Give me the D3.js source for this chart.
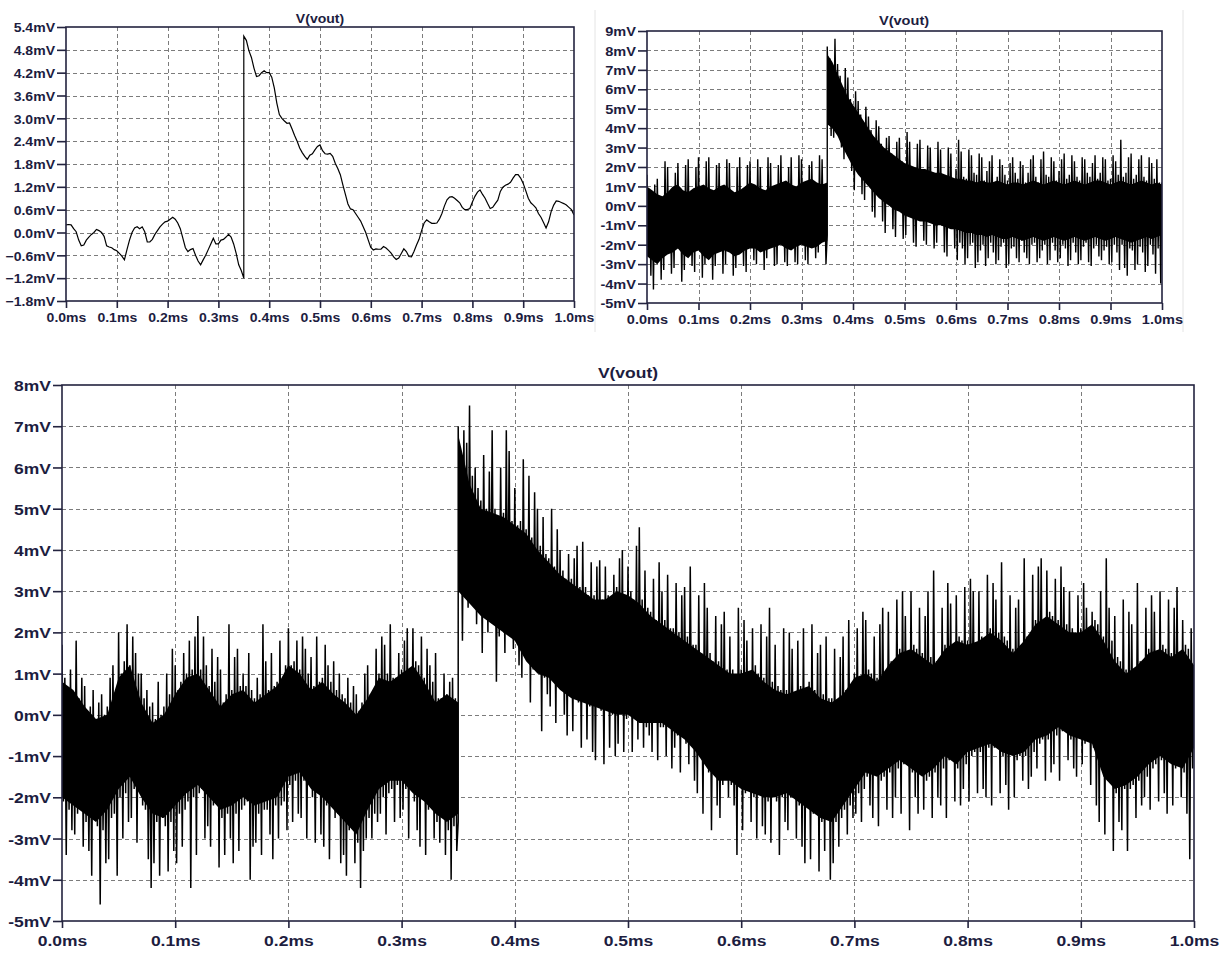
<!DOCTYPE html>
<html>
<head>
<meta charset="utf-8">
<script src="https://cdn.jsdelivr.net/npm/d3@7"></script>
<style>
  html, body { margin: 0; padding: 0; background: #fff; }
  svg { display: block; }
  text { font-family: "Liberation Sans", Arial, sans-serif; font-weight: bold; fill: #1d1d3f; }
</style>
</head>
<body>
<svg id="chart" width="1227" height="954"></svg>
<script>
// ---------------------------------------------------------------
// Data (mV vs ms). Each record is split at the 0.35 ms step.
// ---------------------------------------------------------------
const traceTitle = "V(vout)";
const timeTicks = [0, 0.1, 0.2, 0.3, 0.4, 0.5, 0.6, 0.7, 0.8, 0.9, 1.0];
const stepTime = 0.35;

// Panel A (upper left): filtered output, one sample every 5 µs
const aYTicks = [-1.8, -1.2, -0.6, 0.0, 0.6, 1.2, 1.8, 2.4, 3.0, 3.6, 4.2, 4.8, 5.4];
const aPre = [
  0.2, 0.21, 0.2, 0.1, 0.02, -0.2, -0.35, -0.33, -0.2, -0.12,
  -0.05, 0.0, 0.08, 0.05, 0.0, -0.1, -0.35, -0.38, -0.4, -0.45,
  -0.48, -0.55, -0.62, -0.72, -0.45, -0.2, 0.0, 0.12, 0.15, 0.1,
  0.15, 0.02, -0.25, -0.25, -0.18, -0.05, 0.05, 0.15, 0.22, 0.28,
  0.3, 0.35, 0.4, 0.35, 0.25, 0.1, -0.15, -0.4, -0.5, -0.45,
  -0.42, -0.6, -0.75, -0.85, -0.72, -0.6, -0.45, -0.3, -0.15, -0.3,
  -0.3, -0.2, -0.18, -0.12, -0.05, -0.12, -0.3, -0.55, -0.85, -1.0,
  -1.2
];
const aPost = [
  5.16, 5.05, 4.78, 4.6, 4.32, 4.1, 4.12, 4.2, 4.25, 4.2,
  4.2, 4.08, 3.8, 3.4, 3.1, 3.0, 2.93, 2.87, 2.88, 2.72,
  2.55, 2.4, 2.22, 2.1, 2.0, 1.92, 2.03, 2.07, 2.17, 2.26,
  2.3, 2.15, 2.07, 2.06, 2.08, 2.0, 1.82, 1.68, 1.52, 1.25,
  1.0, 0.75, 0.62, 0.6, 0.5, 0.4, 0.3, 0.15, 0.0, -0.2,
  -0.39, -0.46, -0.43, -0.44, -0.44, -0.37, -0.41, -0.47, -0.54, -0.64,
  -0.71, -0.67, -0.55, -0.43, -0.5, -0.63, -0.64, -0.5, -0.33, -0.18,
  0.05, 0.25, 0.33, 0.28, 0.24, 0.24, 0.25, 0.35, 0.5, 0.7,
  0.86, 0.93, 0.94, 0.9, 0.84, 0.78, 0.66, 0.6, 0.6, 0.63,
  0.8, 0.95, 1.06, 1.12, 1.0, 0.9, 0.76, 0.63, 0.66, 0.76,
  0.85, 1.08, 1.19, 1.24, 1.27, 1.32, 1.43, 1.52, 1.52, 1.43,
  1.29, 1.1, 0.9, 0.78, 0.72, 0.65, 0.5, 0.4, 0.26, 0.12,
  0.28, 0.55, 0.72, 0.83, 0.82, 0.79, 0.76, 0.72, 0.66, 0.6,
  0.46
];

// Panel B (upper right): noisy output
const bYTicks = [-5, -4, -3, -2, -1, 0, 1, 2, 3, 4, 5, 6, 7, 8, 9];
// dense band of the trace, every 10 µs
const bCoreHiPre = [
  1.0, 0.8, 0.6, 0.5, 0.7, 1.0, 1.1, 0.8, 0.7, 0.9,
  1.0, 1.1, 0.9, 0.8, 1.0, 1.1, 0.9, 0.7, 0.8, 1.0,
  1.2, 1.1, 0.9, 0.8, 1.0, 1.1, 1.2, 1.3, 1.1, 1.0,
  1.2, 1.3, 1.4, 1.2, 1.1, 1.2
];
const bCoreLoPre = [
  -2.6, -2.8, -3.0, -2.7, -2.5, -2.4, -2.2, -2.5, -2.7, -2.4,
  -2.3, -2.6, -2.8, -2.5, -2.4, -2.3, -2.4, -2.6, -2.5, -2.3,
  -2.2, -2.2, -2.4, -2.3, -2.2, -2.1, -2.0, -2.2, -2.3, -2.1,
  -2.0, -2.1, -2.2, -2.1, -1.9, -1.8
];
const bCoreHiPost = [
  7.8, 7.4, 6.8, 6.2, 5.6, 5.2, 4.8, 4.4, 4.0, 3.6,
  3.3, 3.0, 2.8, 2.6, 2.4, 2.2, 2.1, 2.0, 1.9, 1.9,
  1.8, 1.7, 1.7, 1.6, 1.5, 1.4, 1.4, 1.3, 1.3, 1.2,
  1.3, 1.2, 1.2, 1.3, 1.2, 1.1, 1.2, 1.2, 1.1, 1.2,
  1.3, 1.2, 1.1, 1.2, 1.3, 1.2, 1.1, 1.2, 1.3, 1.2,
  1.1, 1.2, 1.3, 1.3, 1.2, 1.1, 1.2, 1.3, 1.2, 1.1,
  1.2, 1.3, 1.2, 1.1, 1.2, 1.1
];
const bCoreLoPost = [
  4.2, 4.0, 3.6, 3.0, 2.5, 2.0, 1.6, 1.3, 1.0, 0.7,
  0.4, 0.2, 0.0, -0.2, -0.3, -0.5, -0.6, -0.7, -0.8, -0.8,
  -0.9, -1.0, -1.0, -1.1, -1.2, -1.2, -1.3, -1.4, -1.4, -1.5,
  -1.5, -1.6, -1.5, -1.6, -1.7, -1.7, -1.6, -1.7, -1.8, -1.7,
  -1.6, -1.7, -1.8, -1.7, -1.6, -1.7, -1.8, -1.7, -1.6, -1.7,
  -1.8, -1.7, -1.6, -1.7, -1.8, -1.7, -1.6, -1.7, -1.8, -1.9,
  -1.8, -1.7, -1.6, -1.7, -1.6, -1.5
];
// alternating peaks every 2.5 µs
const bPeaksPre = [
  1.6, -2.4, 0.8, -3.6,   0.6, -4.3, 1.1, -2.6,   1.4, -2.8, 0.4, -3.8,   0.3, -3.3, 2.3, -2.5,
  2.0, -2.3, 0.5, -3.5,   0.8, -3.2, 1.7, -2.2,   2.2, -2.0, 0.9, -3.9,   0.6, -3.3, 2.1, -2.3,
  2.4, -2.5, 0.5, -3.1,   0.7, -3.4, 2.0, -2.2,   2.5, -2.1, 0.8, -3.7,   0.9, -3.0, 2.3, -2.4,
  2.5, -2.6, 0.7, -3.8,   0.6, -3.1, 2.1, -2.3,   2.2, -2.2, 0.8, -3.5,   0.9, -3.0, 2.4, -2.1,
  2.2, -2.2, 0.7, -3.6,   0.5, -3.2, 2.0, -2.4,   2.5, -2.4, 0.6, -3.1,   0.8, -3.4, 2.1, -2.1,
  2.3, -2.0, 1.0, -2.8,   0.9, -3.0, 2.4, -2.0,   2.0, -2.2, 0.7, -3.3,   0.6, -2.7, 2.5, -2.1,
  2.2, -2.0, 0.8, -3.1,   0.9, -3.0, 2.1, -1.9,   2.6, -1.8, 1.0, -2.9,   1.1, -3.1, 2.0, -2.0,
  2.5, -2.1, 0.9, -2.9,   0.8, -3.0, 2.6, -1.9,   2.4, -1.8, 1.0, -2.8,   1.1, -3.0, 2.1, -1.9,
  2.3, -2.0, 1.2, -2.7,   1.0, -2.4, 2.6, -1.9,   2.4, -1.7, 0.9, -3.0,
  -1.5
];
const bPeaksPost = [
  8.2, 4.3, 7.6, 3.6,   7.3, 3.5, 8.6, 4.1,   7.3, 3.7, 6.7, 3.0,   6.1, 2.4, 7.1, 3.1,
  6.6, 2.6, 5.5, 1.8,   5.1, 0.8, 5.9, 2.1,   5.4, 1.7, 4.7, 0.6,   4.3, 0.3, 5.1, 1.4,
  4.6, 1.1, 3.9, -0.3,  3.5, -0.6, 4.4, 0.8,  4.1, 0.5, 3.2, -0.8,  2.9, -1.4, 3.5, 0.3,
  3.6, 0.1, 2.7, -1.2,  2.5, -1.6, 3.3, -0.1, 3.5, -0.2, 2.3, -1.7, 2.1, -1.5, 3.8, -0.4,
  3.3, -0.5, 2.0, -1.9, 1.9, -2.1, 3.2, -0.6, 3.4, -0.7, 1.8, -1.8, 1.8, -2.0, 3.1, -0.7,
  3.0, -0.8, 1.7, -2.2, 1.6, -1.9, 3.3, -0.9, 2.9, -0.9, 1.6, -2.4, 1.5, -2.6, 3.0, -1.0,
  2.7, -1.1, 1.4, -2.2,
  1.9, -2.8, 3.4, -1.9,   2.8, -2.2, 1.5, -3.0,   1.4, -2.7, 2.9, -2.0,   2.6, -1.9, 1.7, -3.2,
  1.6, -2.9, 2.7, -2.3,   2.5, -2.0, 1.3, -3.1,   1.8, -2.7, 2.3, -1.9,   2.6, -2.4, 1.2, -3.0,
  1.5, -2.8, 2.4, -2.1,   2.1, -1.9, 1.6, -3.2,   1.3, -3.0, 2.2, -2.2,   2.5, -2.1, 1.7, -2.7,
  1.4, -2.9, 2.3, -1.8,   2.1, -2.4, 1.2, -2.7,   1.7, -3.0, 2.4, -2.0,   2.6, -1.9, 1.5, -2.9,
  1.2, -2.7, 2.4, -2.3,   2.8, -2.0, 1.6, -3.0,   1.5, -2.8, 2.5, -1.9,   2.3, -2.3, 1.3, -2.9,
  1.8, -2.7, 2.4, -2.0,   2.7, -2.2, 1.4, -3.1,   1.6, -2.8, 2.6, -1.9,   2.3, -2.4, 1.5, -3.0,
  1.3, -2.8, 2.5, -2.1,   2.4, -1.9, 1.7, -2.9,   1.5, -3.1, 2.2, -2.2,   2.6, -2.0, 1.4, -2.6,
  1.7, -2.8, 2.5, -2.3,   2.4, -2.1, 1.3, -3.0,   1.4, -2.9, 2.6, -2.0,   2.3, -2.4, 1.6, -3.3,
  3.4, -2.0, 1.5, -3.2,   1.7, -3.6, 2.5, -2.2,   2.7, -2.3, 1.4, -3.3,   1.6, -3.0, 2.4, -2.1,
  2.6, -2.4, 1.5, -3.4,   1.3, -3.1, 2.5, -2.0,   2.2, -2.5, 1.4, -3.5,   2.4, -2.2, 1.2, -4.0,
  1.2
];

// Panel C (bottom): noisy output
const cYTicks = [-5, -4, -3, -2, -1, 0, 1, 2, 3, 4, 5, 6, 7, 8];
const cCoreHiPre = [
  0.8, 0.6, 0.2, -0.1, 0.0, 0.9, 1.2, 0.3, -0.2, 0.0,
  0.5, 0.9, 1.0, 0.6, 0.2, 0.5, 0.6, 0.3, 0.5, 0.7,
  1.2, 1.0, 0.6, 0.8, 0.5, 0.3, 0.0, 0.4, 0.9, 0.8,
  1.0, 1.2, 0.8, 0.3, 0.5, 0.3
];
const cCoreLoPre = [
  -2.0, -2.2, -2.4, -2.6, -2.3, -1.8, -1.5, -2.0, -2.4, -2.5,
  -2.2, -1.9, -1.7, -2.0, -2.3, -2.2, -2.0, -2.2, -2.1, -2.0,
  -1.5, -1.4, -1.8, -2.0, -2.3, -2.6, -2.9, -2.3, -1.8, -1.6,
  -1.6, -1.9, -2.1, -2.4, -2.6, -2.4
];
const cCoreHiPost = [
  6.8, 5.6, 5.0, 4.9, 4.8, 4.6, 4.4, 4.0, 3.7, 3.4,
  3.2, 3.0, 2.8, 2.8, 3.0, 2.9, 2.7, 2.4, 2.2, 2.0,
  1.8, 1.6, 1.4, 1.2, 1.0, 1.0, 1.1, 0.8, 0.6, 0.5,
  0.6, 0.7, 0.4, 0.3, 0.5, 0.9, 1.0, 0.8, 1.2, 1.5,
  1.6, 1.4, 1.2, 1.6, 1.8, 1.7, 1.8, 2.0, 1.8, 1.5,
  1.8, 2.2, 2.4, 2.2, 2.0, 2.0, 2.2, 1.8, 1.3, 1.0,
  1.2, 1.5, 1.6, 1.4, 1.6, 1.2
];
const cCoreLoPost = [
  3.0, 2.7, 2.4, 2.2, 2.0, 1.8, 1.3, 1.0, 0.9, 0.6,
  0.4, 0.3, 0.2, 0.1, 0.0, 0.0, -0.2, -0.2, -0.2, -0.4,
  -0.6, -0.9, -1.3, -1.6, -1.6, -1.8, -1.9, -2.0, -2.0, -1.9,
  -2.1, -2.3, -2.5, -2.6, -2.2, -1.8, -1.4, -1.5, -1.3, -1.1,
  -1.3, -1.5, -1.3, -1.0, -1.2, -0.9, -0.8, -0.7, -0.9, -1.0,
  -0.9, -0.6, -0.5, -0.3, -0.5, -0.6, -0.7, -1.5, -1.8, -1.7,
  -1.5, -1.2, -1.0, -1.2, -1.3, -0.8
];
// alternating peaks every 1.25 µs
const cPeaksPre = [
  1.7, -2.1, 0.9, -3.4, 0.6, -2.3, 1.1, -2.8,
  0.5, -2.9, 1.8, -2.4, 0.4, -2.2, 0.9, -3.2,
  0.7, -2.6, 0.1, -3.3, 0.2, -3.9, 0.6, -2.5,
  -0.1, -2.7, 0.3, -4.6, 0.5, -2.8, 0.0, -3.6,
  0.2, -3.5, 0.9, -2.5, 1.2, -2.4, 0.4, -3.9,
  2.0, -2.0, 1.0, -3.0, 1.3, -1.9, 2.2, -2.6,
  1.2, -2.5, 1.9, -1.8, 1.5, -3.1, 1.0, -1.7,
  1.0, -2.2, 0.4, -2.3, 0.6, -3.5, 0.2, -4.2,
  0.3, -3.6, -0.1, -2.6, 0.8, -3.9, 0.0, -2.5,
  0.2, -2.7, 1.0, -3.8, 0.5, -2.6, 1.6, -3.3,
  1.2, -3.6, 0.6, -2.4, 0.8, -3.2, 1.5, -2.3,
  1.0, -2.1, 1.8, -4.2, 1.1, -2.0, 1.9, -3.4,
  2.4, -1.9, 1.1, -1.8, 1.9, -3.0, 1.2, -2.7,
  0.7, -3.2, 1.6, -2.2, 0.8, -2.1, 1.4, -3.7,
  1.1, -2.5, 0.3, -3.4, 0.5, -2.4, 2.2, -3.0,
  0.6, -3.6, 1.4, -2.4, 1.6, -3.3, 0.7, -2.3,
  1.0, -2.2, 0.7, -2.1, 1.5, -4.0, 0.6, -3.2,
  0.4, -3.1, 0.9, -2.4, 0.5, -3.4, 2.2, -2.3,
  1.3, -2.3, 0.6, -2.9, 1.5, -3.5, 0.7, -2.2,
  0.8, -3.0, 1.8, -2.2, 0.9, -2.1, 1.2, -2.8,
  2.1, -1.7, 1.2, -2.6, 1.3, -1.6, 1.8, -2.4,
  1.1, -2.5, 1.9, -1.6, 1.6, -3.0, 1.0, -1.5,
  1.4, -2.0, 0.7, -3.1, 1.9, -1.9, 0.8, -2.9,
  0.9, -3.2, 1.7, -2.2, 1.2, -3.5, 0.8, -2.1,
  1.3, -2.5, 0.6, -2.4, 1.0, -3.6, 0.5, -3.4,
  0.4, -3.9, 0.9, -2.8, 0.3, -2.7, 0.7, -3.6,
  0.5, -3.1, 0.1, -4.2, 0.3, -3.3, 1.0, -3.0,
  1.2, -2.5, 0.5, -3.0, 0.6, -2.4, 1.6, -2.6,
  1.0, -2.4, 1.9, -2.0, 1.7, -2.9, 1.0, -1.9,
  2.2, -1.8, 0.9, -2.6, 0.9, -1.7, 1.5, -2.5,
  1.1, -2.3, 1.8, -1.8, 2.1, -3.0, 1.1, -1.7,
  2.1, -2.1, 1.3, -2.8, 1.2, -3.2, 1.9, -2.0,
  0.9, -3.4, 1.6, -2.3, 1.2, -2.2, 0.8, -3.0,
  1.5, -2.6, 0.4, -3.1, 0.4, -2.5, 1.0, -3.4,
  0.5, -2.8, 0.8, -4.0, 0.9, -2.7, 0.4, -3.3,
  -2.6
];
const cPeaksPost = [
  7.0, 3.2, 6.4, 1.8, 6.9, 2.9, 6.6, 2.6,
  7.5, 2.8, 5.8, 3.0, 6.0, 2.2, 5.5, 2.6,
  5.2, 1.5, 6.3, 2.5, 5.0, 2.0, 5.9, 2.3,
  6.9, 2.3, 5.0, 0.8, 4.8, 1.9, 6.0, 2.1,
  4.9, 1.5, 6.9, 2.1, 6.4, 1.9, 4.7, 1.6,
  5.5, 1.9, 4.6, 1.2, 4.7, 0.9, 6.2, 1.7,
  4.5, 1.4, 5.8, 0.3, 4.3, 1.1, 5.4, 1.2,
  5.0, 1.1, 4.1, -0.4, 4.8, 0.9, 3.9, 0.5,
  3.8, 0.2, 5.0, 1.0, 3.6, -0.2, 4.5, 0.8,
  4.0, 0.7, 3.5, 0.0, 3.3, -0.5, 3.9, 0.5,
  3.3, -0.4, 3.8, 0.5, 4.1, 0.3, 3.1, -0.8,
  4.2, 0.4, 3.1, -0.6, 2.9, 0.2, 3.7, -0.9,
  2.9, -1.1, 3.6, 0.3, 3.75, 0.1, 2.8, -1.2,
  3.6, 0.2, 2.9, -0.8, 2.7, 0.0, 3.4, -1.0,
  3.1, -0.7, 3.8, 0.1, 4.0, -0.9, 2.9, -0.1,
  3.6, 0.1, 3.0, -0.9, 2.8, -0.1, 4.1, -0.6,
  4.55, -0.1, 2.8, -0.8, 3.5, -0.3, 2.6, -0.5,
  2.5, -0.9, 3.3, -0.1, 2.3, -1.1, 3.7, -0.3,
  3.0, -0.3, 2.3, -1.0, 3.4, -0.2, 2.1, -1.3,
  2.1, -0.8, 3.2, -0.5, 2.0, -1.4, 2.9, -0.4,
  3.1, -0.7, 1.9, -1.2, 3.6, -0.6, 1.7, -1.6,
  1.7, -1.9, 2.9, -1.0, 1.5, -2.4, 3.2, -0.9,
  2.6, -1.4, 1.5, -2.8, 1.3, -1.2, 2.4, -2.2,
  1.3, -2.5, 2.2, -1.7, 2.5, -1.5, 1.1, -2.0,
  1.9, -1.7, 1.1, -2.2, 0.9, -3.4, 2.6, -1.6,
  1.1, -2.8, 2.3, -1.9, 1.8, -1.8, 1.0, -2.6,
  2.1, -2.0, 1.2, -3.0, 1.0, -1.9, 2.2, -2.7,
  0.9, -2.9, 1.9, -2.1, 2.6, -3.1, 0.8, -2.0,
  1.7, -2.1, 0.7, -3.4, 0.6, -2.0, 2.1, -2.6,
  0.6, -2.8, 2.0, -2.0, 1.6, -1.9, 0.5, -3.0,
  1.8, -2.2, 0.7, -3.2, 2.1, -3.6, 0.6, -2.1,
  0.8, -3.5, 2.2, -2.4, 0.6, -2.3, 1.5, -3.8,
  1.7, -2.6, 0.5, -3.3, 1.9, -2.5, 0.4, -4.0,
  0.4, -3.6, 1.6, -2.6, 0.3, -3.2, 1.4, -2.5,
  1.9, -2.3, 0.6, -2.9, 2.3, -2.2, 0.7, -2.5,
  1.0, -2.4, 2.1, -1.9, 0.9, -2.6, 2.5, -1.8,
  2.3, -1.5, 1.1, -2.2, 1.0, -2.5, 1.9, -1.4,
  0.9, -2.7, 2.2, -1.6, 2.6, -1.5, 0.8, -2.3,
  2.5, -1.4, 1.3, -2.5, 1.2, -2.0, 2.8, -1.3,
  1.6, -2.4, 3.0, -1.2, 2.4, -1.1, 1.4, -2.8,
  3.0, -1.4, 1.7, -2.0, 1.6, -2.4, 2.6, -1.3,
  1.5, -2.3, 2.4, -1.6, 3.0, -1.5, 1.4, -2.5,
  3.5, -1.4, 1.3, -2.0, 1.2, -2.2, 2.6, -1.3,
  1.7, -2.5, 3.2, -1.1, 2.7, -1.0, 1.6, -2.1,
  2.9, -1.3, 1.9, -2.2, 1.8, -1.8, 3.1, -1.2,
  1.8, -2.1, 3.3, -1.0, 3.0, -0.9, 1.7, -1.9,
  3.0, -0.9, 1.9, -1.8, 1.8, -2.0, 3.4, -0.8,
  2.1, -2.2, 3.2, -0.8, 2.8, -0.7, 2.0, -1.9,
  3.7, -1.0, 1.9, -1.7, 1.8, -2.3, 2.9, -0.9,
  1.6, -2.0, 2.6, -1.1, 2.8, -1.0, 1.5, -1.6,
  3.8, -1.0, 1.9, -1.8, 1.8, -1.5, 3.4, -0.9,
  2.3, -1.3, 3.6, -0.7, 3.8, -0.6, 2.2, -1.6,
  3.5, -0.6, 2.5, -1.4, 2.4, -1.2, 3.3, -0.5,
  2.3, -1.6, 3.6, -0.4, 3.1, -0.3, 2.2, -1.1,
  3.0, -0.6, 2.1, -1.3, 2.0, -1.5, 2.9, -0.5,
  2.1, -1.2, 3.2, -0.7, 2.6, -0.6, 2.0, -1.7,
  2.5, -0.8, 2.3, -2.2, 2.2, -2.6, 3.0, -0.7,
  1.9, -2.9, 3.8, -1.6, 2.6, -1.5, 1.8, -3.3,
  2.4, -1.9, 1.4, -2.6, 1.3, -2.8, 2.8, -1.8,
  1.1, -3.3, 2.5, -1.8, 2.2, -1.7, 1.0, -2.5,
  3.2, -1.6, 1.3, -2.2, 1.2, -2.0, 2.6, -1.5,
  1.6, -2.3, 2.9, -1.3, 2.5, -1.2, 1.5, -2.1,
  3.0, -1.1, 1.7, -1.9, 1.6, -2.4, 2.8, -1.0,
  1.5, -2.2, 2.6, -1.3, 3.1, -1.2, 1.4, -2.0,
  2.3, -1.4, 1.7, -2.4, 1.6, -3.5, 2.1, -1.3,
  1.1
];

// ---------------------------------------------------------------
// Layout
// ---------------------------------------------------------------
const panels = {
  A: { x0: 66,  x1: 574,  y0: 27,  y1: 301, font: 13,   sx: 1.08, titleX: 320, titleY: 23,  tick: 9, yPad: 2, xPad: 5, lw: 1.2 },
  B: { x0: 647, x1: 1162, y0: 31,  y1: 303, font: 13,   sx: 1.12, titleX: 904, titleY: 25,  tick: 9, yPad: 2, xPad: 5, lw: 1.4 },
  C: { x0: 62,  x1: 1194, y0: 385, y1: 921, font: 15.5, sx: 1.13, titleX: 628, titleY: 378, tick: 9, yPad: 2, xPad: 7, lw: 1.5 }
};
const inkColor = "#23233f";
const gridColor = "#7c7c7c";

const svg = d3.select("#chart");
svg.append("rect").attr("width", 1227).attr("height", 954).attr("fill", "#fff");

// faint window separators
[595, 1183].forEach(xx => {
  svg.append("line").attr("x1", xx).attr("x2", xx).attr("y1", 10).attr("y2", 332)
    .attr("stroke", "#e4e4e4").attr("stroke-width", 1);
});

// pairs a list of samples with evenly spaced times between t0 and t1
function timed(values, t0, t1) {
  const n = values.length;
  return values.map((v, i) => [t0 + (t1 - t0) * i / (n - 1), v]);
}
function band(hi, lo, t0, t1) {
  const n = hi.length;
  return hi.map((h, i) => ({ t: t0 + (t1 - t0) * i / (n - 1), hi: h, lo: lo[i] }));
}

let clipCount = 0;
function drawPanel(L, yDomain, yTicks, yFmt, trace) {
  const g = svg.append("g");
  const x = d3.scaleLinear().domain([0, 1]).range([L.x0, L.x1]);
  const y = d3.scaleLinear().domain(yDomain).range([L.y1, L.y0]);

  // dashed grid
  g.append("g").selectAll("line").data(yTicks.slice(1, -1)).join("line")
    .attr("x1", L.x0).attr("x2", L.x1)
    .attr("y1", d => Math.round(y(d)) + 0.5).attr("y2", d => Math.round(y(d)) + 0.5)
    .attr("stroke", gridColor).attr("stroke-width", 1).attr("stroke-dasharray", "4,3");
  g.append("g").selectAll("line").data(timeTicks.slice(1, -1)).join("line")
    .attr("x1", d => Math.round(x(d)) + 0.5).attr("x2", d => Math.round(x(d)) + 0.5)
    .attr("y1", L.y0).attr("y2", L.y1)
    .attr("stroke", gridColor).attr("stroke-width", 1).attr("stroke-dasharray", "4,3");

  // trace, clipped to the plot area
  const id = "plotclip" + (clipCount++);
  g.append("clipPath").attr("id", id).append("rect")
    .attr("x", L.x0).attr("y", L.y0).attr("width", L.x1 - L.x0).attr("height", L.y1 - L.y0);
  const plot = g.append("g").attr("clip-path", `url(#${id})`);

  if (trace.coreHiPre) {
    const bandData = band(trace.coreHiPre, trace.coreLoPre, 0, stepTime)
      .concat(band(trace.coreHiPost, trace.coreLoPost, stepTime, 1));
    plot.append("path").datum(bandData)
      .attr("d", d3.area().x(d => x(d.t)).y0(d => y(d.lo)).y1(d => y(d.hi)))
      .attr("fill", "#000");
  }
  const pts = timed(trace.pre, 0, stepTime).concat(timed(trace.post, stepTime, 1));
  plot.append("path").datum(pts)
    .attr("d", d3.line().x(d => x(d[0])).y(d => y(d[1])))
    .attr("fill", "none").attr("stroke", "#000").attr("stroke-width", L.lw)
    .attr("stroke-linejoin", "miter").attr("stroke-miterlimit", 4);

  // frame
  g.append("rect").attr("x", L.x0).attr("y", L.y0)
    .attr("width", L.x1 - L.x0).attr("height", L.y1 - L.y0)
    .attr("fill", "none").attr("stroke", inkColor).attr("stroke-width", 1.6);

  // vertical axis
  const gy = g.append("g").attr("transform", `translate(${L.x0},0)`)
    .call(d3.axisLeft(y).tickValues(yTicks).tickFormat(yFmt).tickSize(L.tick).tickPadding(L.yPad).tickSizeOuter(0));
  gy.select(".domain").remove();
  gy.selectAll(".tick line").attr("stroke", inkColor).attr("stroke-width", 1.6);
  gy.selectAll(".tick text")
    .style("font-size", L.font + "px")
    .attr("x", -(L.tick + L.yPad) / L.sx)
    .attr("dy", "0.36em")
    .attr("transform", `scale(${L.sx},1)`);

  // time axis
  const gx = g.append("g").attr("transform", `translate(0,${L.y1})`)
    .call(d3.axisBottom(x).tickValues(timeTicks).tickFormat(d => d3.format(".1f")(d) + "ms")
      .tickSize(L.tick - 2).tickPadding(L.xPad).tickSizeOuter(0));
  gx.select(".domain").remove();
  gx.selectAll(".tick line").attr("stroke", inkColor).attr("stroke-width", 1.6);
  gx.selectAll(".tick text")
    .style("font-size", L.font + "px")
    .attr("transform", `scale(${L.sx},1)`);

  // title
  g.append("text")
    .attr("transform", `translate(${L.titleX},${L.titleY}) scale(${L.sx},1)`)
    .attr("text-anchor", "middle")
    .style("font-size", L.font + "px")
    .text(traceTitle);
}

drawPanel(panels.A, [-1.8, 5.4], aYTicks, d => d3.format(".1f")(d) + "mV",
  { pre: aPre, post: aPost });
drawPanel(panels.B, [-5, 9], bYTicks, d => d + "mV",
  { pre: bPeaksPre, post: bPeaksPost,
    coreHiPre: bCoreHiPre, coreLoPre: bCoreLoPre, coreHiPost: bCoreHiPost, coreLoPost: bCoreLoPost });
drawPanel(panels.C, [-5, 8], cYTicks, d => d + "mV",
  { pre: cPeaksPre, post: cPeaksPost,
    coreHiPre: cCoreHiPre, coreLoPre: cCoreLoPre, coreHiPost: cCoreHiPost, coreLoPost: cCoreLoPost });
</script>
</body>
</html>
